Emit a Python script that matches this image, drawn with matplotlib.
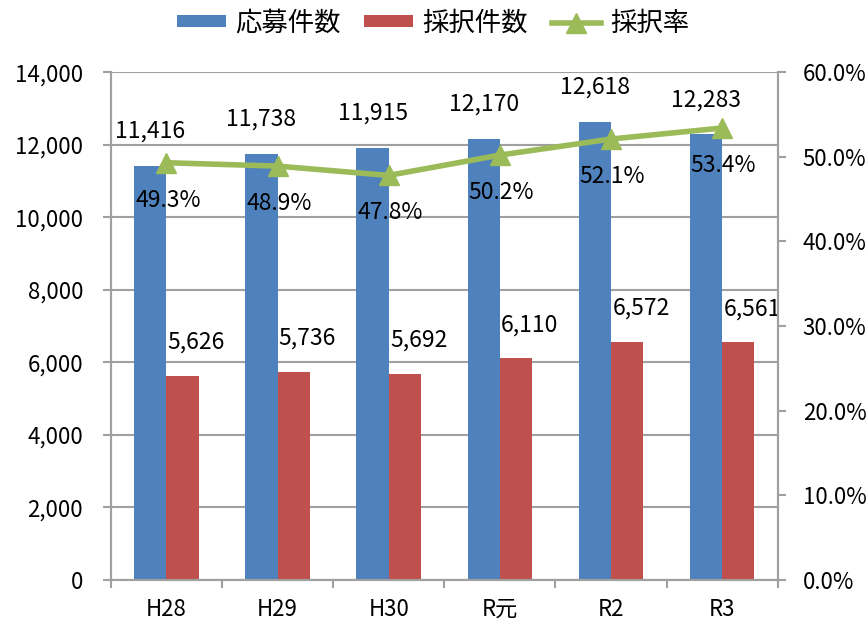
import numpy as np
import matplotlib.pyplot as plt
from matplotlib.lines import Line2D
from matplotlib.ticker import FuncFormatter, MultipleLocator

plt.rcParams['font.family'] = ['Noto Sans CJK JP', 'DejaVu Sans']

years = ['H28', 'H29', 'H30', 'R元', 'R2', 'R3']
applications = [11416, 11738, 11915, 12170, 12618, 12283]
adopted = [5626, 5736, 5692, 6110, 6572, 6561]
rate = [49.3, 48.9, 47.8, 50.2, 52.1, 53.4]

blue = '#4F81BD'
red = '#C0504D'
green = '#9BBB59'
grey = '#A0A0A0'
fs = 16

fig = plt.figure(figsize=(8.66, 6.22), dpi=100)
ax = fig.add_axes([0.128, 0.0675, 0.77, 0.8165])
ax2 = ax.twinx()

x = np.arange(len(years))
w = 0.29
b1 = ax.bar(x - w / 2, applications, w, color=blue, zorder=2, label='応募件数')
b2 = ax.bar(x + w / 2, adopted, w, color=red, zorder=2, label='採択件数')

# count labels above the bars
for xi, v in zip(x, applications):
    ax.annotate(f'{v:,}', (xi - w / 2, v), xytext=(0, 25), textcoords='offset points',
                ha='center', va='center', fontsize=16.5)
for xi, v in zip(x, adopted):
    ax.annotate(f'{v:,}', (xi + w / 2, v), xytext=(10, 24), textcoords='offset points',
                ha='center', va='center', fontsize=16.5)

ln, = ax2.plot(x, rate, color=green, lw=4, marker='^', markersize=15,
               label='採択率', zorder=3)
for xi, v in zip(x, rate):
    ax2.annotate(f'{v:.1f}%', (xi, v), xytext=(1, -27), textcoords='offset points',
                 ha='center', va='center', fontsize=16.5)

ax.set_xlim(-0.5, len(years) - 0.5)
ax.set_ylim(0, 14000)
ax2.set_ylim(0, 60)
ax.yaxis.set_major_locator(MultipleLocator(2000))
ax2.yaxis.set_major_locator(MultipleLocator(10))
ax.yaxis.set_major_formatter(FuncFormatter(lambda v, p: f'{int(v):,}'))
ax2.yaxis.set_major_formatter(FuncFormatter(lambda v, p: f'{v:.1f}%'))

ax.set_xticks(x)
ax.set_xticklabels(years)
ax.set_xticks(np.arange(-0.5, len(years)), minor=True)
ax.tick_params(axis='x', which='major', length=0, pad=13, labelsize=fs)
ax.tick_params(axis='x', which='minor', length=6, color=grey, width=1.5)
ax.tick_params(axis='y', length=6, color=grey, width=1.5, labelsize=fs, pad=14)
ax2.tick_params(axis='y', length=6, color=grey, width=1.5, labelsize=fs, pad=12)

ax.grid(axis='y', color=grey, lw=1.5, zorder=0)
ax.set_axisbelow(True)
for a in (ax, ax2):
    a.spines['top'].set_visible(False)
    for s in ('left', 'right', 'bottom'):
        a.spines[s].set_color(grey)
        a.spines[s].set_linewidth(1.5)

handles = [b1, b2, Line2D([], [], color=green, lw=4, marker='^', markersize=15)]
fig.legend(handles, ['応募件数', '採択件数', '採択率'], loc='center', ncol=3,
           bbox_to_anchor=(0.5, 0.963), frameon=False, fontsize=19,
           handlelength=1.85, handleheight=0.32, columnspacing=0.9, handletextpad=0.35)

fig.savefig('out.png', dpi=100)
